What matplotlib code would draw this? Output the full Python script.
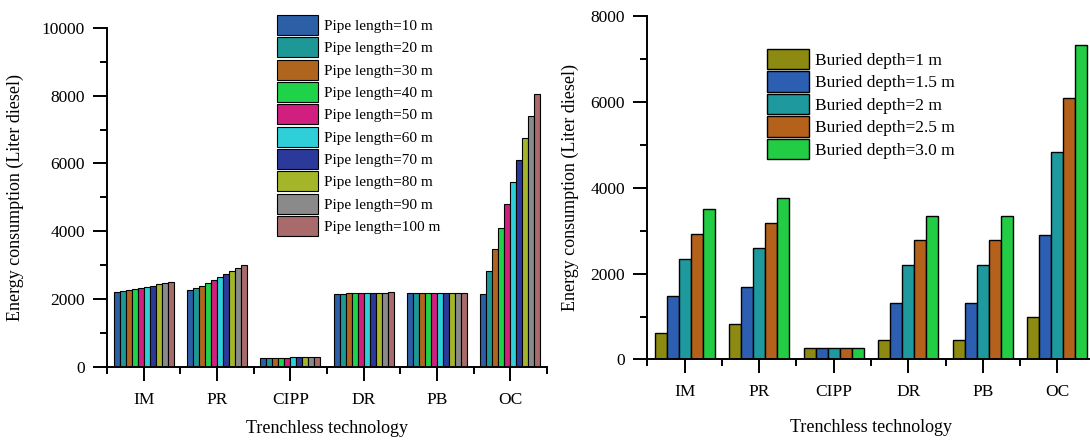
import numpy as np
import matplotlib.pyplot as plt
from matplotlib.ticker import MultipleLocator, FixedLocator

plt.rcParams["font.family"] = ["Liberation Serif", "DejaVu Serif"]

categories = ["IM", "PR", "CIPP", "DR", "PB", "OC"]

# left panel: pipe length series (rows = pipe length, cols = technology)
pipe_labels = ["Pipe length=10 m", "Pipe length=20 m", "Pipe length=30 m", "Pipe length=40 m",
               "Pipe length=50 m", "Pipe length=60 m", "Pipe length=70 m", "Pipe length=80 m",
               "Pipe length=90 m", "Pipe length=100 m"]
im_pipe = [2200, 2230, 2260, 2300, 2330, 2360, 2390, 2430, 2460, 2500]
pr_pipe = [2250, 2310, 2390, 2470, 2560, 2640, 2720, 2810, 2900, 2990]
cipp_pipe = [255, 258, 260, 262, 265, 268, 270, 272, 275, 278]
dr_pipe = [2150, 2155, 2160, 2165, 2170, 2175, 2180, 2182, 2185, 2190]
pb_pipe = [2180, 2180, 2180, 2180, 2180, 2180, 2180, 2180, 2180, 2180]
oc_pipe = [2150, 2820, 3480, 4100, 4790, 5450, 6090, 6760, 7400, 8060]
pipe_colors = ["#2b5fa6", "#1e9896", "#b0651e", "#1fd24a", "#d01f7f",
               "#2ecfd8", "#2b3a9a", "#a5b52a", "#8a8a8a", "#a86a6a"]

# right panel: buried depth series
depth_labels = ["Buried depth=1 m", "Buried depth=1.5 m", "Buried depth=2 m",
                "Buried depth=2.5 m", "Buried depth=3.0 m"]
im_depth = [610, 1480, 2340, 2930, 3510]
pr_depth = [820, 1690, 2590, 3170, 3760]
cipp_depth = [260, 260, 260, 260, 260]
dr_depth = [450, 1320, 2190, 2790, 3350]
pb_depth = [450, 1320, 2190, 2780, 3340]
oc_depth = [1000, 2900, 4830, 6080, 7320]
depth_colors = ["#8c8a10", "#2c5fb2", "#1e9a9e", "#b4611c", "#22cc44"]


def style_axes(ax, ymax, ystep):
    ax.spines["top"].set_visible(False)
    ax.spines["right"].set_visible(False)
    for s in ("left", "bottom"):
        ax.spines[s].set_linewidth(1.4)
    ax.set_xlim(0.5, 6.5)
    ax.set_ylim(0, ymax)
    x = np.arange(1, 7)
    ax.set_xticks(x)
    ax.set_xticklabels(categories)
    ax.xaxis.set_minor_locator(FixedLocator(np.arange(0.5, 7.0, 1.0)))
    ax.yaxis.set_major_locator(MultipleLocator(ystep))
    ax.yaxis.set_minor_locator(MultipleLocator(ystep / 2))
    ax.tick_params(which="major", direction="out", length=10, width=1.4, labelsize=12.5, pad=6)
    ax.tick_params(which="minor", direction="out", length=5, width=1.4)
    ax.tick_params(axis="x", which="major", pad=8)
    ax.set_xlabel("Trenchless technology", fontsize=13)
    ax.set_ylabel("Energy consumption (Liter diesel)", fontsize=13)
    ax.xaxis.label.set_va("center")
    ax.yaxis.label.set_va("center")


fig = plt.figure(figsize=(10.9, 4.4), dpi=100)
ax1 = fig.add_axes([0.0982, 0.167, 0.4037, 0.7694])
ax2 = fig.add_axes([0.594, 0.183, 0.4102, 0.7806])

x = np.arange(1, 7)

pipe_data = np.array([im_pipe, pr_pipe, cipp_pipe, dr_pipe, pb_pipe, oc_pipe]).T
w1 = 0.082
n1 = len(pipe_labels)
for i in range(n1):
    ax1.bar(x + (i - (n1 - 1) / 2) * w1, pipe_data[i], width=w1, color=pipe_colors[i],
            edgecolor="black", linewidth=0.8, label=pipe_labels[i])

depth_data = np.array([im_depth, pr_depth, cipp_depth, dr_depth, pb_depth, oc_depth]).T
w2 = 0.162
n2 = len(depth_labels)
for i in range(n2):
    ax2.bar(x + (i - (n2 - 1) / 2) * w2, depth_data[i], width=w2, color=depth_colors[i],
            edgecolor="black", linewidth=1.0, label=depth_labels[i])

style_axes(ax1, 10000, 2000)
style_axes(ax2, 8000, 2000)
ax1.xaxis.set_label_coords(0.5, -0.1817)
ax1.yaxis.set_label_coords(-0.209, 0.5)
ax2.xaxis.set_label_coords(0.5, -0.1994)
ax2.yaxis.set_label_coords(-0.173, 0.5)

ax1.legend(loc="upper left", bbox_to_anchor=(0.2539, 0.966), bbox_transform=fig.transFigure,
           frameon=False, fontsize=11, borderpad=0, handlelength=2.73, handleheight=1.64,
           labelspacing=0.15, handletextpad=0.37, borderaxespad=0)
ax2.legend(loc="upper left", bbox_to_anchor=(0.704, 0.8886), bbox_transform=fig.transFigure,
           frameon=False, fontsize=12.5, borderpad=0, handlelength=2.4, handleheight=1.4,
           labelspacing=0.14, handletextpad=0.35, borderaxespad=0)

fig.savefig("out.png", dpi=100)
